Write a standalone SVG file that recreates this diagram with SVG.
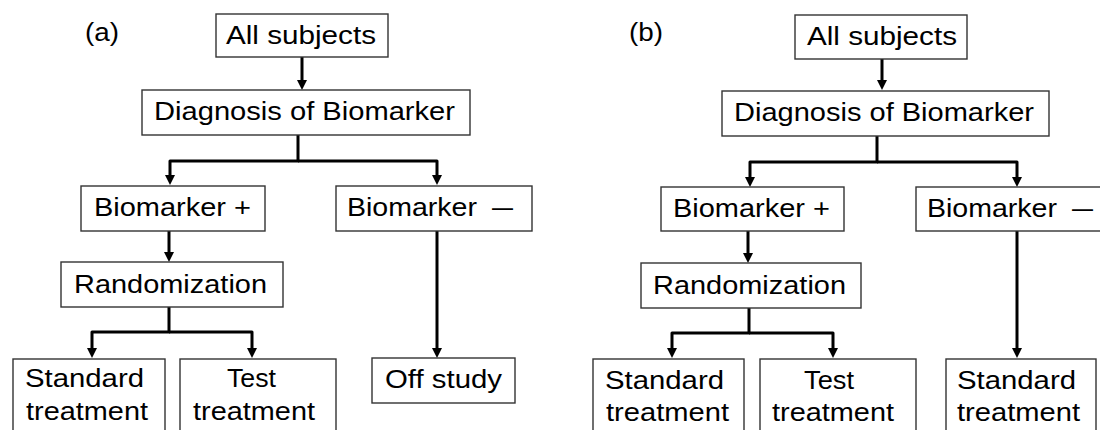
<svg xmlns="http://www.w3.org/2000/svg" width="1100" height="430" viewBox="0 0 1100 430">
<style>
.bx{fill:#fff;stroke:#333;stroke-width:1.4}
.t{font-family:"Liberation Sans",Arial,sans-serif;font-size:26px;fill:#000}
.c{fill:none;stroke:#000;stroke-width:3;stroke-linejoin:round}
</style>
<defs>
<marker id="ah" markerUnits="userSpaceOnUse" markerWidth="10" markerHeight="10" refX="4" refY="5" orient="auto" viewBox="0 0 10 10">
<path d="M0,0 L10,5 L0,10 z" fill="#000"/>
</marker>
</defs>
<rect width="1100" height="430" fill="#fff"/>
<g id="connectors">
<path class="c" d="M302,57 V84" marker-end="url(#ah)"/>
<path class="c" d="M298,135 V161 H170 V179" marker-end="url(#ah)"/>
<path class="c" d="M298,161 H437 V179" marker-end="url(#ah)"/>
<path class="c" d="M169,231 V256" marker-end="url(#ah)"/>
<path class="c" d="M169,307 V332 H92 V352" marker-end="url(#ah)"/>
<path class="c" d="M169,332 H252 V352" marker-end="url(#ah)"/>
<path class="c" d="M437,231 V352" marker-end="url(#ah)"/>
<path class="c" d="M882,59 V84" marker-end="url(#ah)"/>
<path class="c" d="M877,136 V162 H750 V181" marker-end="url(#ah)"/>
<path class="c" d="M877,162 H1017 V181" marker-end="url(#ah)"/>
<path class="c" d="M748,231 V257" marker-end="url(#ah)"/>
<path class="c" d="M749,308 V333 H672 V352" marker-end="url(#ah)"/>
<path class="c" d="M749,333 H833 V352" marker-end="url(#ah)"/>
<path class="c" d="M1017,231 V352" marker-end="url(#ah)"/>
</g>
<text class="t" x="85" y="41" textLength="34" lengthAdjust="spacingAndGlyphs">(a)</text>
<text class="t" x="629" y="41" textLength="34" lengthAdjust="spacingAndGlyphs">(b)</text>
<g id="a-all">
<rect class="bx" x="216" y="14" width="172" height="43"/>
<text class="t" x="226" y="44" textLength="150" lengthAdjust="spacingAndGlyphs">All subjects</text>
</g>
<g id="a-diag">
<rect class="bx" x="142" y="90" width="328" height="45"/>
<text class="t" x="154" y="120" textLength="301" lengthAdjust="spacingAndGlyphs">Diagnosis of Biomarker</text>
</g>
<g id="a-bplus">
<rect class="bx" x="81" y="186" width="184" height="45"/>
<text class="t" x="94" y="216" textLength="157" lengthAdjust="spacingAndGlyphs">Biomarker +</text>
</g>
<g id="a-bminus">
<rect class="bx" x="336" y="186" width="196" height="45"/>
<text class="t" x="347" y="216" textLength="130" lengthAdjust="spacingAndGlyphs">Biomarker</text>
<text class="t" x="492" y="216" textLength="21" lengthAdjust="spacingAndGlyphs">—</text>
</g>
<g id="a-rand">
<rect class="bx" x="61" y="262" width="222" height="45"/>
<text class="t" x="74" y="293" textLength="193" lengthAdjust="spacingAndGlyphs">Randomization</text>
</g>
<g id="a-std">
<rect class="bx" x="13" y="359" width="152" height="90"/>
<text class="t" x="25" y="387" textLength="119" lengthAdjust="spacingAndGlyphs">Standard</text>
<text class="t" x="26" y="420" textLength="122" lengthAdjust="spacingAndGlyphs">treatment</text>
</g>
<g id="a-test">
<rect class="bx" x="180" y="359" width="156" height="90"/>
<text class="t" x="227" y="387" textLength="49" lengthAdjust="spacingAndGlyphs">Test</text>
<text class="t" x="193" y="420" textLength="122" lengthAdjust="spacingAndGlyphs">treatment</text>
</g>
<g id="a-off">
<rect class="bx" x="372" y="358" width="143" height="45"/>
<text class="t" x="385" y="388" textLength="117" lengthAdjust="spacingAndGlyphs">Off study</text>
</g>
<g id="b-all">
<rect class="bx" x="795" y="15" width="172" height="44"/>
<text class="t" x="807" y="45" textLength="150" lengthAdjust="spacingAndGlyphs">All subjects</text>
</g>
<g id="b-diag">
<rect class="bx" x="722" y="91" width="327" height="45"/>
<text class="t" x="734" y="121" textLength="300" lengthAdjust="spacingAndGlyphs">Diagnosis of Biomarker</text>
</g>
<g id="b-bplus">
<rect class="bx" x="661" y="187" width="183" height="44"/>
<text class="t" x="673" y="217" textLength="157" lengthAdjust="spacingAndGlyphs">Biomarker +</text>
</g>
<g id="b-bminus">
<rect class="bx" x="916" y="187" width="200" height="44"/>
<text class="t" x="927" y="217" textLength="130" lengthAdjust="spacingAndGlyphs">Biomarker</text>
<text class="t" x="1072" y="217" textLength="21" lengthAdjust="spacingAndGlyphs">—</text>
</g>
<g id="b-rand">
<rect class="bx" x="641" y="263" width="220" height="45"/>
<text class="t" x="653" y="294" textLength="193" lengthAdjust="spacingAndGlyphs">Randomization</text>
</g>
<g id="b-std">
<rect class="bx" x="593" y="359" width="151" height="90"/>
<text class="t" x="605" y="389" textLength="119" lengthAdjust="spacingAndGlyphs">Standard</text>
<text class="t" x="606" y="421" textLength="123" lengthAdjust="spacingAndGlyphs">treatment</text>
</g>
<g id="b-test">
<rect class="bx" x="760" y="359" width="156" height="90"/>
<text class="t" x="804" y="389" textLength="50" lengthAdjust="spacingAndGlyphs">Test</text>
<text class="t" x="772" y="421" textLength="122" lengthAdjust="spacingAndGlyphs">treatment</text>
</g>
<g id="b-std2">
<rect class="bx" x="946" y="359" width="150" height="90"/>
<text class="t" x="957" y="389" textLength="119" lengthAdjust="spacingAndGlyphs">Standard</text>
<text class="t" x="957" y="421" textLength="123" lengthAdjust="spacingAndGlyphs">treatment</text>
</g>
</svg>
